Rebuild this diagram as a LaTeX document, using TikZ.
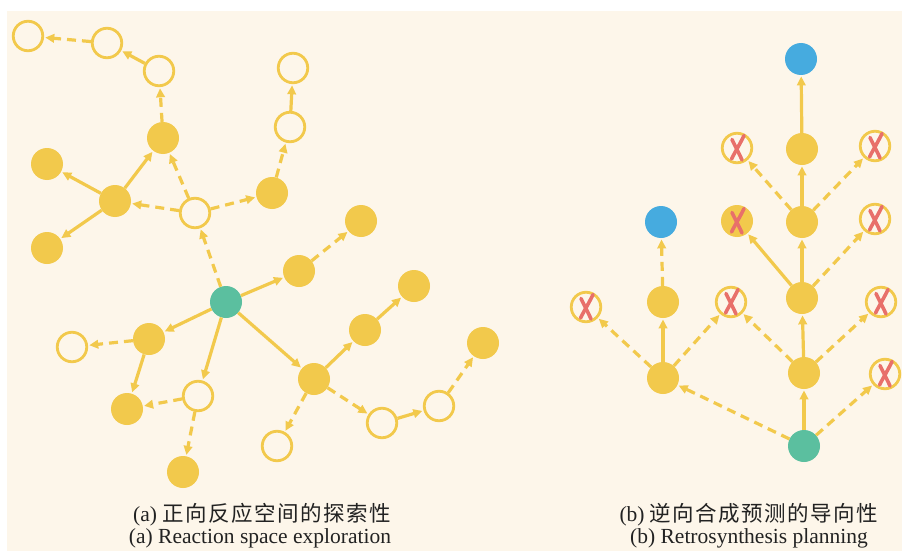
\documentclass[tikz,border=0pt]{standalone}
\usepackage{fontspec}
\setmainfont{Liberation Serif}
\newfontfamily\cjk{Noto Sans CJK SC}
\usetikzlibrary{arrows.meta}
\definecolor{paper}{HTML}{FDF6EA}
\definecolor{gold}{HTML}{F2C94C}
\definecolor{mint}{HTML}{5BBF9F}
\definecolor{sky}{HTML}{46ABDF}
\definecolor{crossred}{HTML}{E8706A}
\definecolor{ink}{HTML}{222222}
\newcommand\cjkgap{\hspace{1.5pt}}
\tikzset{
  full/.style={circle, fill=gold, minimum size=32pt, inner sep=0pt},
  start/.style={full, fill=mint},
  goal/.style={full, fill=sky},
  hollow/.style={circle, draw=gold, line width=2.8pt, fill=paper, minimum size=29.5pt, inner sep=0pt},
  link/.style={draw=gold, line width=3.2pt, -{Triangle[length=9pt,width=8.5pt]}, shorten >=1.2pt},
  dlink/.style={link, dash pattern=on 9pt off 6pt},
  crossx/.style={draw=crossred, line width=3.6pt, line cap=round},
  caption/.style={anchor=base, text=ink, font=\fontsize{21.5}{24}\selectfont, inner sep=0pt},
}
\begin{document}
\begin{tikzpicture}[x=1pt, y=-1pt]
\useasboundingbox (0,0) rectangle (902,551);
\fill[white] (0,0) rectangle (902,551);
\fill[paper] (7,11) rectangle (902,551);

% ---------- (a) forward reaction space ----------
\node[hollow] (o1) at (28,36) {};
\node[hollow] (o2) at (107,43) {};
\node[hollow] (o3) at (159,71) {};
\node[full]   (f1) at (163,138) {};
\node[full]   (f2) at (47,164) {};
\node[full]   (f3) at (115,201) {};
\node[full]   (f4) at (47,248) {};
\node[hollow] (o4) at (195,213) {};
\node[full]   (f5) at (272,193) {};
\node[hollow] (o5) at (290,127) {};
\node[hollow] (o6) at (293,68) {};
\node[full]   (f6) at (361,221) {};
\node[full]   (f7) at (299,271) {};
\node[full]   (f8) at (414,286) {};
\node[start]  (g)  at (226,302) {};
\node[full]   (f9) at (149,339) {};
\node[hollow] (o7) at (72,347) {};
\node[full]   (f10) at (127,409) {};
\node[hollow] (o8) at (198,396) {};
\node[full]   (f11) at (183,472) {};
\node[full]   (f12) at (314,379) {};
\node[full]   (f13) at (365,330) {};
\node[full]   (f14) at (483,343) {};
\node[hollow] (o9) at (277,446) {};
\node[hollow] (o10) at (382,423) {};
\node[hollow] (o11) at (439,406) {};

\draw[dlink] (o2) -- (o1);
\draw[link]  (o3) -- (o2);
\draw[dlink] (f1) -- (o3);
\draw[link]  (f3) -- (f1);
\draw[link]  (f3) -- (f2);
\draw[link]  (f3) -- (f4);
\draw[dlink] (o4) -- (f3);
\draw[dlink] (o4) -- (f1);
\draw[dlink] (o4) -- (f5);
\draw[dlink] (f5) -- (o5);
\draw[link]  (o5) -- (o6);
\draw[dlink] (g) -- (o4);
\draw[link]  (g) -- (f7);
\draw[dlink] (f7) -- (f6);
\draw[link]  (g) -- (f9);
\draw[dlink] (f9) -- (o7);
\draw[link]  (f9) -- (f10);
\draw[link]  (g) -- (o8);
\draw[dlink] (o8) -- (f10);
\draw[dlink] (o8) -- (f11);
\draw[link]  (g) -- (f12);
\draw[link]  (f12) -- (f13);
\draw[link]  (f13) -- (f8);
\draw[dlink] (f12) -- (o9);
\draw[dlink] (f12) -- (o10);
\draw[link]  (o10) -- (o11);
\draw[dlink] (o11) -- (f14);

% ---------- (b) retrosynthesis tree ----------
\node[goal]   (b1) at (801,59) {};
\node[full]   (y1) at (802,149) {};
\node[hollow] (x1) at (737,148) {};
\node[hollow] (x2) at (875,146) {};
\node[full]   (y2) at (802,222) {};
\node[full]   (xf) at (737,221) {};
\node[hollow] (x3) at (875,219) {};
\node[goal]   (b2) at (661,222) {};
\node[full]   (y3) at (663,302) {};
\node[hollow] (x4) at (586,307) {};
\node[hollow] (x5) at (731,302) {};
\node[full]   (y4) at (802,298) {};
\node[hollow] (x6) at (881,302) {};
\node[full]   (y5) at (663,378) {};
\node[full]   (y6) at (804,373) {};
\node[hollow] (x7) at (885,374) {};
\node[start]  (g2) at (804,446) {};

\draw[dlink] (y3) -- (b2);
\draw[link]  (y5) -- (y3);
\draw[dlink] (y5) -- (x4);
\draw[dlink] (y5) -- (x5);
\draw[dlink] (g2) -- (y5);
\draw[link]  (g2) -- (y6);
\draw[dlink] (g2) -- (x7);
\draw[link]  (y6) -- (y4);
\draw[dlink] (y6) -- (x5);
\draw[dlink] (y6) -- (x6);
\draw[link]  (y4) -- (y2);
\draw[link]  (y4) -- (xf);
\draw[dlink] (y4) -- (x3);
\draw[link]  (y2) -- (y1);
\draw[dlink] (y2) -- (x1);
\draw[dlink] (y2) -- (x2);
\draw[link]  (y1) -- (b1);

% rejected precursors: hand-drawn red crosses
\foreach \n in {x1,x2,x3,xf,x4,x5,x6,x7}{
  \draw[crossx] ([shift={(7,-12.5)}]\n.center) .. controls ([shift={(3,-4)}]\n.center) and ([shift={(-2,4)}]\n.center) .. ([shift={(-5.5,11)}]\n.center);
  \draw[crossx] ([shift={(-5,-8.5)}]\n.center) .. controls ([shift={(-1,0)}]\n.center) and ([shift={(2,5)}]\n.center) .. ([shift={(5,12)}]\n.center);
}

% ---------- captions ----------
\node[caption] (cap-a1) at (262,521) {(a) {\cjk 正\cjkgap 向\cjkgap 反\cjkgap 应\cjkgap 空\cjkgap 间\cjkgap 的\cjkgap 探\cjkgap 索\cjkgap 性}};
\node[caption] (cap-a2) at (260,543) {(a) Reaction space exploration};
\node[caption] (cap-b1) at (749,521) {(b) {\cjk 逆\cjkgap 向\cjkgap 合\cjkgap 成\cjkgap 预\cjkgap 测\cjkgap 的\cjkgap 导\cjkgap 向\cjkgap 性}};
\node[caption] (cap-b2) at (749,543) {(b) Retrosynthesis planning};
\end{tikzpicture}
\end{document}
